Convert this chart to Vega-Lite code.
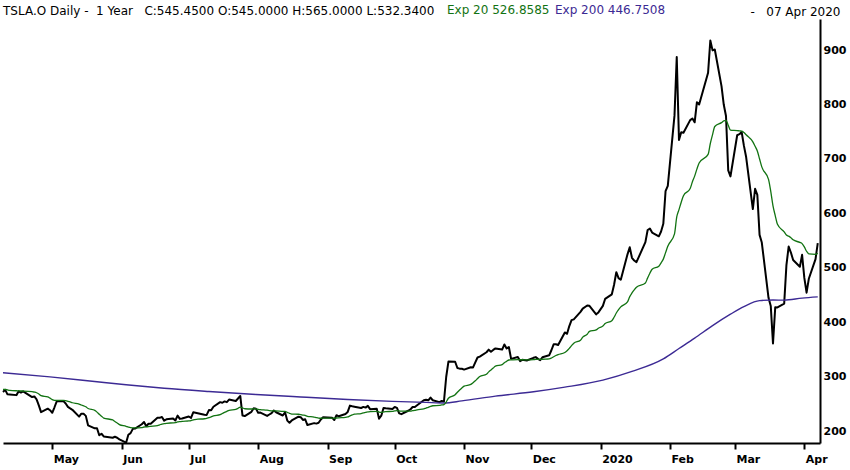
{
  "$schema": "https://vega.github.io/schema/vega-lite/v6.json",
  "width": 817,
  "height": 424,
  "autosize": {"type": "none"},
  "padding": {"left": 3, "top": 19, "right": 30, "bottom": 27},
  "background": "white",
  "title": {
    "text": "TSLA.O Daily -\u00a0\u00a01 Year\u00a0\u00a0\u00a0C:545.4500 O:545.0000 H:565.0000 L:532.3400",
    "anchor": "start",
    "frame": "group",
    "font": "DejaVu Sans",
    "fontSize": 12,
    "fontWeight": "normal",
    "color": "#000000",
    "baseline": "alphabetic",
    "offset": 4,
    "dy": 27
  },
  "datasets": {
    "prices": [
      {"d": "2019-04-09", "c": 272.3, "e20": 277.0},
      {"d": "2019-04-10", "c": 276.1, "e20": 276.9},
      {"d": "2019-04-11", "c": 267.8, "e20": 276.0},
      {"d": "2019-04-12", "c": 267.7, "e20": 275.2},
      {"d": "2019-04-15", "c": 266.4, "e20": 274.4},
      {"d": "2019-04-16", "c": 273.4, "e20": 274.3},
      {"d": "2019-04-17", "c": 271.2, "e20": 274.0},
      {"d": "2019-04-18", "c": 273.3, "e20": 273.9},
      {"d": "2019-04-22", "c": 262.8, "e20": 272.9},
      {"d": "2019-04-23", "c": 263.9, "e20": 272.0},
      {"d": "2019-04-24", "c": 258.7, "e20": 270.8},
      {"d": "2019-04-25", "c": 247.6, "e20": 268.6},
      {"d": "2019-04-26", "c": 235.1, "e20": 265.4},
      {"d": "2019-04-29", "c": 241.5, "e20": 263.1},
      {"d": "2019-04-30", "c": 238.7, "e20": 260.8},
      {"d": "2019-05-01", "c": 234.0, "e20": 258.3},
      {"d": "2019-05-02", "c": 244.1, "e20": 256.9},
      {"d": "2019-05-03", "c": 255.0, "e20": 256.7},
      {"d": "2019-05-06", "c": 255.3, "e20": 256.6},
      {"d": "2019-05-07", "c": 251.0, "e20": 256.1},
      {"d": "2019-05-08", "c": 244.8, "e20": 255.0},
      {"d": "2019-05-09", "c": 242.0, "e20": 253.8},
      {"d": "2019-05-10", "c": 239.5, "e20": 252.4},
      {"d": "2019-05-13", "c": 227.0, "e20": 250.0},
      {"d": "2019-05-14", "c": 232.3, "e20": 248.3},
      {"d": "2019-05-15", "c": 232.0, "e20": 246.8},
      {"d": "2019-05-16", "c": 228.3, "e20": 245.0},
      {"d": "2019-05-17", "c": 211.0, "e20": 241.8},
      {"d": "2019-05-20", "c": 205.4, "e20": 238.3},
      {"d": "2019-05-21", "c": 205.7, "e20": 235.2},
      {"d": "2019-05-22", "c": 192.7, "e20": 231.2},
      {"d": "2019-05-23", "c": 195.5, "e20": 227.8},
      {"d": "2019-05-24", "c": 190.6, "e20": 224.3},
      {"d": "2019-05-28", "c": 188.2, "e20": 220.8},
      {"d": "2019-05-29", "c": 189.9, "e20": 217.9},
      {"d": "2019-05-30", "c": 188.2, "e20": 215.1},
      {"d": "2019-05-31", "c": 185.2, "e20": 212.3},
      {"d": "2019-06-03", "c": 179.0, "e20": 209.1},
      {"d": "2019-06-04", "c": 193.6, "e20": 207.6},
      {"d": "2019-06-05", "c": 196.6, "e20": 206.6},
      {"d": "2019-06-06", "c": 204.5, "e20": 206.4},
      {"d": "2019-06-07", "c": 205.0, "e20": 206.3},
      {"d": "2019-06-10", "c": 212.9, "e20": 206.9},
      {"d": "2019-06-11", "c": 217.1, "e20": 207.9},
      {"d": "2019-06-12", "c": 209.3, "e20": 208.0},
      {"d": "2019-06-13", "c": 213.9, "e20": 208.6},
      {"d": "2019-06-14", "c": 213.9, "e20": 209.1},
      {"d": "2019-06-17", "c": 225.0, "e20": 210.6},
      {"d": "2019-06-18", "c": 224.7, "e20": 211.9},
      {"d": "2019-06-19", "c": 226.4, "e20": 213.3},
      {"d": "2019-06-20", "c": 219.6, "e20": 213.9},
      {"d": "2019-06-21", "c": 221.9, "e20": 214.7},
      {"d": "2019-06-24", "c": 223.6, "e20": 215.5},
      {"d": "2019-06-25", "c": 219.8, "e20": 215.9},
      {"d": "2019-06-26", "c": 228.8, "e20": 217.1},
      {"d": "2019-06-27", "c": 222.8, "e20": 217.7},
      {"d": "2019-06-28", "c": 223.5, "e20": 218.2},
      {"d": "2019-07-01", "c": 227.2, "e20": 219.1},
      {"d": "2019-07-02", "c": 224.6, "e20": 219.6},
      {"d": "2019-07-03", "c": 234.9, "e20": 221.1},
      {"d": "2019-07-05", "c": 233.1, "e20": 222.2},
      {"d": "2019-07-08", "c": 230.3, "e20": 223.0},
      {"d": "2019-07-09", "c": 230.1, "e20": 223.7},
      {"d": "2019-07-10", "c": 238.9, "e20": 225.1},
      {"d": "2019-07-11", "c": 238.6, "e20": 226.4},
      {"d": "2019-07-12", "c": 245.1, "e20": 228.2},
      {"d": "2019-07-15", "c": 253.5, "e20": 230.6},
      {"d": "2019-07-16", "c": 252.4, "e20": 232.7},
      {"d": "2019-07-17", "c": 254.9, "e20": 234.8},
      {"d": "2019-07-18", "c": 253.5, "e20": 236.6},
      {"d": "2019-07-19", "c": 258.2, "e20": 238.6},
      {"d": "2019-07-22", "c": 255.7, "e20": 240.3},
      {"d": "2019-07-23", "c": 260.2, "e20": 242.2},
      {"d": "2019-07-24", "c": 264.9, "e20": 244.3},
      {"d": "2019-07-25", "c": 228.8, "e20": 242.8},
      {"d": "2019-07-26", "c": 228.0, "e20": 241.4},
      {"d": "2019-07-29", "c": 235.8, "e20": 240.9},
      {"d": "2019-07-30", "c": 242.3, "e20": 241.0},
      {"d": "2019-07-31", "c": 241.6, "e20": 241.1},
      {"d": "2019-08-01", "c": 233.9, "e20": 240.4},
      {"d": "2019-08-02", "c": 234.3, "e20": 239.8},
      {"d": "2019-08-05", "c": 228.3, "e20": 238.7},
      {"d": "2019-08-06", "c": 230.8, "e20": 238.0},
      {"d": "2019-08-07", "c": 233.4, "e20": 237.5},
      {"d": "2019-08-08", "c": 238.3, "e20": 237.6},
      {"d": "2019-08-09", "c": 235.0, "e20": 237.4},
      {"d": "2019-08-12", "c": 229.0, "e20": 236.6},
      {"d": "2019-08-13", "c": 235.0, "e20": 236.4},
      {"d": "2019-08-14", "c": 219.6, "e20": 234.8},
      {"d": "2019-08-15", "c": 215.6, "e20": 233.0},
      {"d": "2019-08-16", "c": 219.9, "e20": 231.7},
      {"d": "2019-08-19", "c": 226.8, "e20": 231.3},
      {"d": "2019-08-20", "c": 225.9, "e20": 230.8},
      {"d": "2019-08-21", "c": 220.8, "e20": 229.8},
      {"d": "2019-08-22", "c": 222.1, "e20": 229.1},
      {"d": "2019-08-23", "c": 211.4, "e20": 227.4},
      {"d": "2019-08-26", "c": 215.0, "e20": 226.2},
      {"d": "2019-08-27", "c": 214.1, "e20": 225.1},
      {"d": "2019-08-28", "c": 215.6, "e20": 224.2},
      {"d": "2019-08-29", "c": 221.7, "e20": 223.9},
      {"d": "2019-08-30", "c": 225.6, "e20": 224.1},
      {"d": "2019-09-03", "c": 225.0, "e20": 224.2},
      {"d": "2019-09-04", "c": 220.7, "e20": 223.9},
      {"d": "2019-09-05", "c": 229.6, "e20": 224.4},
      {"d": "2019-09-06", "c": 227.5, "e20": 224.7},
      {"d": "2019-09-09", "c": 231.8, "e20": 225.4},
      {"d": "2019-09-10", "c": 235.5, "e20": 226.3},
      {"d": "2019-09-11", "c": 247.1, "e20": 228.3},
      {"d": "2019-09-12", "c": 245.9, "e20": 230.0},
      {"d": "2019-09-13", "c": 245.2, "e20": 231.4},
      {"d": "2019-09-16", "c": 242.8, "e20": 232.5},
      {"d": "2019-09-17", "c": 244.8, "e20": 233.7},
      {"d": "2019-09-18", "c": 243.5, "e20": 234.6},
      {"d": "2019-09-19", "c": 246.6, "e20": 235.7},
      {"d": "2019-09-20", "c": 240.6, "e20": 236.2},
      {"d": "2019-09-23", "c": 241.2, "e20": 236.7},
      {"d": "2019-09-24", "c": 223.2, "e20": 235.4},
      {"d": "2019-09-25", "c": 228.7, "e20": 234.8},
      {"d": "2019-09-26", "c": 242.6, "e20": 235.5},
      {"d": "2019-09-27", "c": 242.1, "e20": 236.1},
      {"d": "2019-09-30", "c": 240.9, "e20": 236.6},
      {"d": "2019-10-01", "c": 244.7, "e20": 237.4},
      {"d": "2019-10-02", "c": 243.1, "e20": 237.9},
      {"d": "2019-10-03", "c": 233.0, "e20": 237.4},
      {"d": "2019-10-04", "c": 231.4, "e20": 236.9},
      {"d": "2019-10-07", "c": 237.7, "e20": 236.9},
      {"d": "2019-10-08", "c": 240.1, "e20": 237.2},
      {"d": "2019-10-09", "c": 244.5, "e20": 237.9},
      {"d": "2019-10-10", "c": 244.7, "e20": 238.6},
      {"d": "2019-10-11", "c": 247.9, "e20": 239.5},
      {"d": "2019-10-14", "c": 257.0, "e20": 241.1},
      {"d": "2019-10-15", "c": 257.9, "e20": 242.7},
      {"d": "2019-10-16", "c": 256.9, "e20": 244.1},
      {"d": "2019-10-17", "c": 262.0, "e20": 245.8},
      {"d": "2019-10-18", "c": 257.0, "e20": 246.9},
      {"d": "2019-10-21", "c": 253.5, "e20": 247.5},
      {"d": "2019-10-22", "c": 255.6, "e20": 248.3},
      {"d": "2019-10-23", "c": 254.7, "e20": 248.9},
      {"d": "2019-10-24", "c": 299.7, "e20": 253.7},
      {"d": "2019-10-25", "c": 328.1, "e20": 260.8},
      {"d": "2019-10-28", "c": 327.7, "e20": 267.2},
      {"d": "2019-10-29", "c": 316.2, "e20": 271.8},
      {"d": "2019-10-30", "c": 315.0, "e20": 275.9},
      {"d": "2019-10-31", "c": 314.9, "e20": 279.6},
      {"d": "2019-11-01", "c": 313.3, "e20": 282.8},
      {"d": "2019-11-04", "c": 317.5, "e20": 286.1},
      {"d": "2019-11-05", "c": 317.2, "e20": 289.1},
      {"d": "2019-11-06", "c": 326.6, "e20": 292.7},
      {"d": "2019-11-07", "c": 335.5, "e20": 296.8},
      {"d": "2019-11-08", "c": 337.1, "e20": 300.6},
      {"d": "2019-11-11", "c": 345.1, "e20": 304.8},
      {"d": "2019-11-12", "c": 349.9, "e20": 309.1},
      {"d": "2019-11-13", "c": 346.1, "e20": 312.6},
      {"d": "2019-11-14", "c": 349.4, "e20": 316.1},
      {"d": "2019-11-15", "c": 352.2, "e20": 319.5},
      {"d": "2019-11-18", "c": 350.0, "e20": 322.4},
      {"d": "2019-11-19", "c": 359.5, "e20": 325.9},
      {"d": "2019-11-20", "c": 352.2, "e20": 328.4},
      {"d": "2019-11-21", "c": 354.8, "e20": 330.9},
      {"d": "2019-11-22", "c": 333.0, "e20": 331.1},
      {"d": "2019-11-25", "c": 336.3, "e20": 331.6},
      {"d": "2019-11-26", "c": 328.9, "e20": 331.4},
      {"d": "2019-11-27", "c": 331.3, "e20": 331.4},
      {"d": "2019-11-29", "c": 329.9, "e20": 331.2},
      {"d": "2019-12-02", "c": 334.9, "e20": 331.6},
      {"d": "2019-12-03", "c": 336.2, "e20": 332.0},
      {"d": "2019-12-04", "c": 333.0, "e20": 332.1},
      {"d": "2019-12-05", "c": 330.4, "e20": 331.9},
      {"d": "2019-12-06", "c": 335.9, "e20": 332.3},
      {"d": "2019-12-09", "c": 339.5, "e20": 333.0},
      {"d": "2019-12-10", "c": 348.8, "e20": 334.5},
      {"d": "2019-12-11", "c": 359.7, "e20": 336.9},
      {"d": "2019-12-12", "c": 359.7, "e20": 339.1},
      {"d": "2019-12-13", "c": 358.4, "e20": 340.9},
      {"d": "2019-12-16", "c": 381.5, "e20": 344.8},
      {"d": "2019-12-17", "c": 379.0, "e20": 348.0},
      {"d": "2019-12-18", "c": 393.2, "e20": 352.3},
      {"d": "2019-12-19", "c": 404.0, "e20": 357.2},
      {"d": "2019-12-20", "c": 405.6, "e20": 361.8},
      {"d": "2019-12-23", "c": 419.2, "e20": 367.3},
      {"d": "2019-12-24", "c": 425.3, "e20": 372.8},
      {"d": "2019-12-26", "c": 430.9, "e20": 378.3},
      {"d": "2019-12-27", "c": 430.4, "e20": 383.3},
      {"d": "2019-12-30", "c": 414.7, "e20": 386.3},
      {"d": "2019-12-31", "c": 418.3, "e20": 389.3},
      {"d": "2020-01-02", "c": 430.3, "e20": 393.2},
      {"d": "2020-01-03", "c": 443.0, "e20": 397.9},
      {"d": "2020-01-06", "c": 451.5, "e20": 403.0},
      {"d": "2020-01-07", "c": 469.1, "e20": 409.3},
      {"d": "2020-01-08", "c": 492.1, "e20": 417.2},
      {"d": "2020-01-09", "c": 481.3, "e20": 423.3},
      {"d": "2020-01-10", "c": 478.2, "e20": 428.5},
      {"d": "2020-01-13", "c": 524.9, "e20": 437.7},
      {"d": "2020-01-14", "c": 537.9, "e20": 447.2},
      {"d": "2020-01-15", "c": 518.5, "e20": 454.0},
      {"d": "2020-01-16", "c": 513.5, "e20": 459.7},
      {"d": "2020-01-17", "c": 510.5, "e20": 464.5},
      {"d": "2020-01-21", "c": 547.2, "e20": 472.4},
      {"d": "2020-01-22", "c": 569.6, "e20": 481.7},
      {"d": "2020-01-23", "c": 572.2, "e20": 490.3},
      {"d": "2020-01-24", "c": 564.8, "e20": 497.4},
      {"d": "2020-01-27", "c": 558.0, "e20": 503.2},
      {"d": "2020-01-28", "c": 566.9, "e20": 509.3},
      {"d": "2020-01-29", "c": 581.0, "e20": 516.1},
      {"d": "2020-01-30", "c": 640.8, "e20": 528.0},
      {"d": "2020-01-31", "c": 650.6, "e20": 539.7},
      {"d": "2020-02-03", "c": 780.0, "e20": 562.6},
      {"d": "2020-02-04", "c": 887.1, "e20": 593.5},
      {"d": "2020-02-05", "c": 734.7, "e20": 607.0},
      {"d": "2020-02-06", "c": 749.0, "e20": 620.5},
      {"d": "2020-02-07", "c": 748.1, "e20": 632.6},
      {"d": "2020-02-10", "c": 771.3, "e20": 645.8},
      {"d": "2020-02-11", "c": 774.4, "e20": 658.1},
      {"d": "2020-02-12", "c": 767.3, "e20": 668.5},
      {"d": "2020-02-13", "c": 804.0, "e20": 681.4},
      {"d": "2020-02-14", "c": 800.0, "e20": 692.7},
      {"d": "2020-02-18", "c": 858.4, "e20": 708.5},
      {"d": "2020-02-19", "c": 917.4, "e20": 728.4},
      {"d": "2020-02-20", "c": 899.4, "e20": 744.7},
      {"d": "2020-02-21", "c": 901.0, "e20": 759.6},
      {"d": "2020-02-24", "c": 833.8, "e20": 766.7},
      {"d": "2020-02-25", "c": 799.9, "e20": 769.9},
      {"d": "2020-02-26", "c": 778.8, "e20": 770.7},
      {"d": "2020-02-27", "c": 679.0, "e20": 762.0},
      {"d": "2020-02-28", "c": 668.0, "e20": 753.0},
      {"d": "2020-03-02", "c": 743.6, "e20": 752.1},
      {"d": "2020-03-03", "c": 745.5, "e20": 751.5},
      {"d": "2020-03-04", "c": 749.5, "e20": 751.3},
      {"d": "2020-03-05", "c": 724.5, "e20": 748.7},
      {"d": "2020-03-06", "c": 703.5, "e20": 744.4},
      {"d": "2020-03-09", "c": 608.0, "e20": 731.4},
      {"d": "2020-03-10", "c": 645.3, "e20": 723.2},
      {"d": "2020-03-11", "c": 634.2, "e20": 714.7},
      {"d": "2020-03-12", "c": 560.6, "e20": 700.0},
      {"d": "2020-03-13", "c": 546.6, "e20": 685.4},
      {"d": "2020-03-16", "c": 445.1, "e20": 662.5},
      {"d": "2020-03-17", "c": 430.2, "e20": 640.4},
      {"d": "2020-03-18", "c": 361.2, "e20": 613.8},
      {"d": "2020-03-19", "c": 427.6, "e20": 596.1},
      {"d": "2020-03-20", "c": 427.5, "e20": 580.0},
      {"d": "2020-03-23", "c": 434.3, "e20": 566.1},
      {"d": "2020-03-24", "c": 505.0, "e20": 560.3},
      {"d": "2020-03-25", "c": 539.3, "e20": 558.3},
      {"d": "2020-03-26", "c": 528.2, "e20": 555.4},
      {"d": "2020-03-27", "c": 514.4, "e20": 551.5},
      {"d": "2020-03-30", "c": 502.1, "e20": 546.8},
      {"d": "2020-03-31", "c": 524.0, "e20": 544.6},
      {"d": "2020-04-01", "c": 481.6, "e20": 538.6},
      {"d": "2020-04-02", "c": 454.5, "e20": 530.6},
      {"d": "2020-04-03", "c": 480.0, "e20": 525.8},
      {"d": "2020-04-06", "c": 516.2, "e20": 524.9},
      {"d": "2020-04-07", "c": 545.5, "e20": 526.9}
    ],
    "ema200": [
      {"d": "2019-04-09", "v": 307.5},
      {"d": "2019-04-30", "v": 300.0},
      {"d": "2019-05-21", "v": 291.0},
      {"d": "2019-06-03", "v": 285.5},
      {"d": "2019-06-20", "v": 279.0},
      {"d": "2019-07-10", "v": 273.0},
      {"d": "2019-07-31", "v": 267.5},
      {"d": "2019-08-20", "v": 263.0},
      {"d": "2019-09-10", "v": 258.5},
      {"d": "2019-09-30", "v": 255.0},
      {"d": "2019-10-15", "v": 253.0},
      {"d": "2019-10-23", "v": 252.0},
      {"d": "2019-10-31", "v": 255.8},
      {"d": "2019-11-15", "v": 264.5},
      {"d": "2019-12-02", "v": 272.5},
      {"d": "2019-12-16", "v": 281.0},
      {"d": "2020-01-02", "v": 294.0},
      {"d": "2020-01-15", "v": 310.0},
      {"d": "2020-01-29", "v": 333.0},
      {"d": "2020-02-05", "v": 352.0},
      {"d": "2020-02-12", "v": 371.0},
      {"d": "2020-02-20", "v": 394.0},
      {"d": "2020-02-28", "v": 415.0},
      {"d": "2020-03-05", "v": 429.0},
      {"d": "2020-03-12", "v": 440.0},
      {"d": "2020-03-18", "v": 441.0},
      {"d": "2020-03-23", "v": 440.8},
      {"d": "2020-03-31", "v": 444.5},
      {"d": "2020-04-07", "v": 446.75}
    ]
  },
  "encoding": {
    "x": {
      "field": "d",
      "type": "temporal",
      "title": null,
      "scale": {
        "type": "utc",
        "domain": [
          {"year": 2019, "month": 4, "date": 9, "utc": true},
          {"year": 2020, "month": 4, "date": 8, "utc": true}
        ]
      },
      "axis": {
        "tickCount": {"interval": "month", "step": 1},
        "labelExpr": "utcFormat(datum.value, '%m') == '01' ? utcFormat(datum.value, '%Y') : utcFormat(datum.value, '%b')",
        "labelAlign": "left",
        "labelOffset": 1,
        "labelPadding": 4,
        "labelOverlap": false,
        "labelBound": false,
        "labelFlush": false,
        "tickSize": 6,
        "tickWidth": 2,
        "tickColor": "#000000",
        "domainWidth": 2,
        "domainColor": "#000000"
      }
    }
  },
  "layer": [
    {
      "data": {"values": [{"label": "COMMON STOCK"}]},
      "mark": {"type": "text", "font": "DejaVu Sans", "fontSize": 30, "color": "#e8e8e8", "align": "center", "baseline": "middle"},
      "encoding": {
        "x": {"datum": {"year": 2019, "month": 11, "date": 27, "utc": true}, "type": "temporal"},
        "y": {"datum": 228, "type": "quantitative", "title": "-\u00a0\u00a0\u00a007 Apr 2020"},
        "text": {"field": "label"}
      }
    },
    {
      "data": {"name": "prices"},
      "mark": {"type": "line", "color": "#000000", "strokeWidth": 2, "strokeJoin": "round"},
      "encoding": {
        "y": {
          "field": "c",
          "type": "quantitative",
          "title": "-\u00a0\u00a0\u00a007 Apr 2020",
          "scale": {"domain": [178.5, 957], "nice": false, "zero": false},
          "axis": {
            "orient": "right",
            "values": [200, 250, 300, 350, 400, 450, 500, 550, 600, 650, 700, 750, 800, 850, 900, 950],
            "ticks": false,
            "labelPadding": 3,
            "domainWidth": 2,
            "domainColor": "#000000",
            "titleAngle": 0,
            "titleAlign": "right",
            "titleBaseline": "alphabetic",
            "titleX": 20,
            "titleY": -3.5,
            "titleFont": "DejaVu Sans",
            "titleFontSize": 12,
            "titleFontWeight": "normal",
            "titleColor": "#000000"
          }
        }
      }
    },
    {
      "data": {"name": "ema200"},
      "mark": {"type": "line", "strokeWidth": 1.4, "interpolate": "monotone"},
      "encoding": {
        "y": {"field": "v", "type": "quantitative", "title": "-\u00a0\u00a0\u00a007 Apr 2020"},
        "color": {"datum": "Exp 200 446.7508"}
      }
    },
    {
      "data": {"name": "prices"},
      "mark": {"type": "line", "strokeWidth": 1.3, "interpolate": "monotone"},
      "encoding": {
        "y": {"field": "e20", "type": "quantitative", "title": "-\u00a0\u00a0\u00a007 Apr 2020"},
        "color": {
          "datum": "Exp 20 526.8585",
          "scale": {"domain": ["Exp 20 526.8585", "Exp 200 446.7508"], "range": ["#127312", "#3c2a94"]},
          "legend": {
            "orient": "none",
            "legendX": 442,
            "legendY": -15,
            "direction": "horizontal",
            "title": null,
            "symbolSize": 1,
            "symbolOpacity": 0,
            "symbolStrokeWidth": 0,
            "labelOffset": -10,
            "columnPadding": 3,
            "padding": 0,
            "labelFont": "DejaVu Sans",
            "labelFontSize": 12,
            "labelLimit": 300,
            "labelColor": {"expr": "datum.value == 'Exp 20 526.8585' ? '#127312' : '#3c2a94'"}
          }
        }
      }
    }
  ],
  "config": {
    "view": {"stroke": null},
    "axis": {
      "grid": false,
      "labelFont": "DejaVu Sans",
      "labelFontSize": 11,
      "labelFontWeight": "bold",
      "labelColor": "#000000"
    }
  }
}
